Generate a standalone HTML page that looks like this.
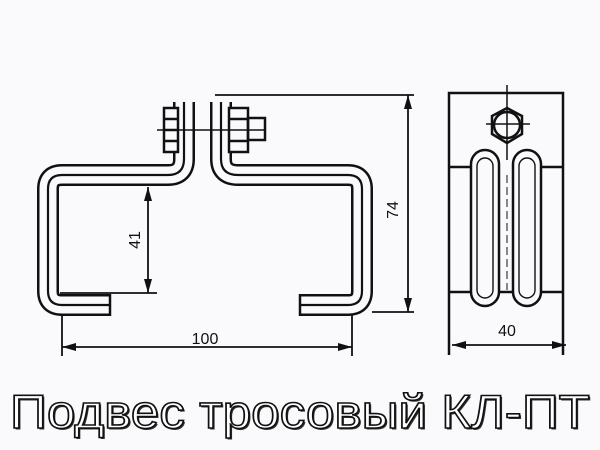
<!DOCTYPE html>
<html><head><meta charset="utf-8"><style>
html,body{margin:0;padding:0;background:#fafafc;}
svg{display:block;}
</style></head><body>
<svg width="600" height="450" viewBox="0 0 600 450" xmlns="http://www.w3.org/2000/svg">
<rect width="600" height="450" fill="#fafafc"/>
<defs>
<path id="L" d="M110 305 L62 305 Q48 305 48 291 L48 189 Q48 175 62 175 L168 175 Q184 175 184 159 L184 100"/>
<path id="R" d="M300 305 L348 305 Q362 305 362 291 L362 189 Q362 175 348 175 L238 175 Q221 175 221 159 L221 100"/>
</defs>
<g fill="none" stroke-linejoin="round">
<use href="#L" stroke="#111" stroke-width="22"/>
<use href="#L" stroke="#fafafc" stroke-width="17"/>
<use href="#L" stroke="#111" stroke-width="2.2"/>
<use href="#R" stroke="#111" stroke-width="22"/>
<use href="#R" stroke="#fafafc" stroke-width="17"/>
<use href="#R" stroke="#111" stroke-width="2.2"/>
<path d="M110 294 V316 M300 294 V316" stroke="#111" stroke-width="2.5"/>
<rect x="172" y="92" width="24" height="10" fill="#fafafc" stroke="none"/>
<rect x="209" y="92" width="24" height="10" fill="#fafafc" stroke="none"/>
</g>
<g fill="none" stroke="#111" stroke-width="2.5">
<rect x="164" y="108" width="14" height="44" fill="#fafafc"/>
<path d="M164 119 H178 M164 130 H178 M164 141 H178"/>
<rect x="229" y="108" width="19" height="44" fill="#fafafc"/>
<path d="M229 119 H248 M229 141 H248"/>
<rect x="248" y="118" width="17" height="22"/>
<path d="M157 130 H265" stroke-width="1.5"/>
<path d="M148 187 V293 M60 293 H157" stroke-width="1.8"/>
<path d="M62 314 V356 M352 314 V356 M62 347 H352" stroke-width="1.8"/>
<path d="M215 95 H414 M372 312 H414 M408 95 V312" stroke-width="1.8"/>
</g>
<g fill="#111">
<path d="M148 187 l-4 14 h8 z M148 293 l-4 -14 h8 z"/>
<path d="M62 347 l14 -4 v8 z M352 347 l-14 -4 v8 z"/>
<path d="M408 95 l-4 14 h8 z M408 312 l-4 -14 h8 z"/>
<path d="M452 345 l14 -4 v8 z M566 345 l-14 -4 v8 z"/>
</g>
<g font-family="Liberation Sans, sans-serif" font-size="16" fill="#111">
<text x="205" y="344" text-anchor="middle">100</text>
<text transform="translate(140 240) rotate(-90)" text-anchor="middle">41</text>
<text transform="translate(398 210) rotate(-90)" text-anchor="middle">74</text>
<text x="507" y="336" text-anchor="middle">40</text>
</g>
<g fill="none" stroke="#111" stroke-width="2.5">
<path d="M449 355 V93 H563 V355" />
<path d="M449 167 H472 M540 167 H563 M449 292 H563"/>
<path d="M507 85 V160 M486 124 H530" stroke-width="1.5"/>
<polygon points="507,108 522,116 522,134 507,143 492,134 492,116"/>
<circle cx="507" cy="125" r="13"/>
<rect x="471" y="150" width="28" height="156" rx="14" fill="#fafafc"/>
<rect x="477" y="158" width="16" height="140" rx="8" stroke-width="1.4"/>
<rect x="513" y="150" width="28" height="156" rx="14" fill="#fafafc"/>
<rect x="519" y="158" width="16" height="140" rx="8" stroke-width="1.4"/>
<path d="M452 345 H566" stroke-width="1.8"/>
<path d="M507 175 V290" stroke-width="1" stroke-dasharray="8 4"/>
</g>
<text x="10" y="428" font-family="Liberation Sans, sans-serif" font-size="47" fill="#333" textLength="580" lengthAdjust="spacingAndGlyphs" transform="translate(1.5 1.5)">Подвес тросовый КЛ-ПТ</text>
<text x="10" y="428" font-family="Liberation Sans, sans-serif" font-size="47" fill="#fff" stroke="#111" stroke-width="1.6" textLength="580" lengthAdjust="spacingAndGlyphs">Подвес тросовый КЛ-ПТ</text>
</svg>
</body></html>
